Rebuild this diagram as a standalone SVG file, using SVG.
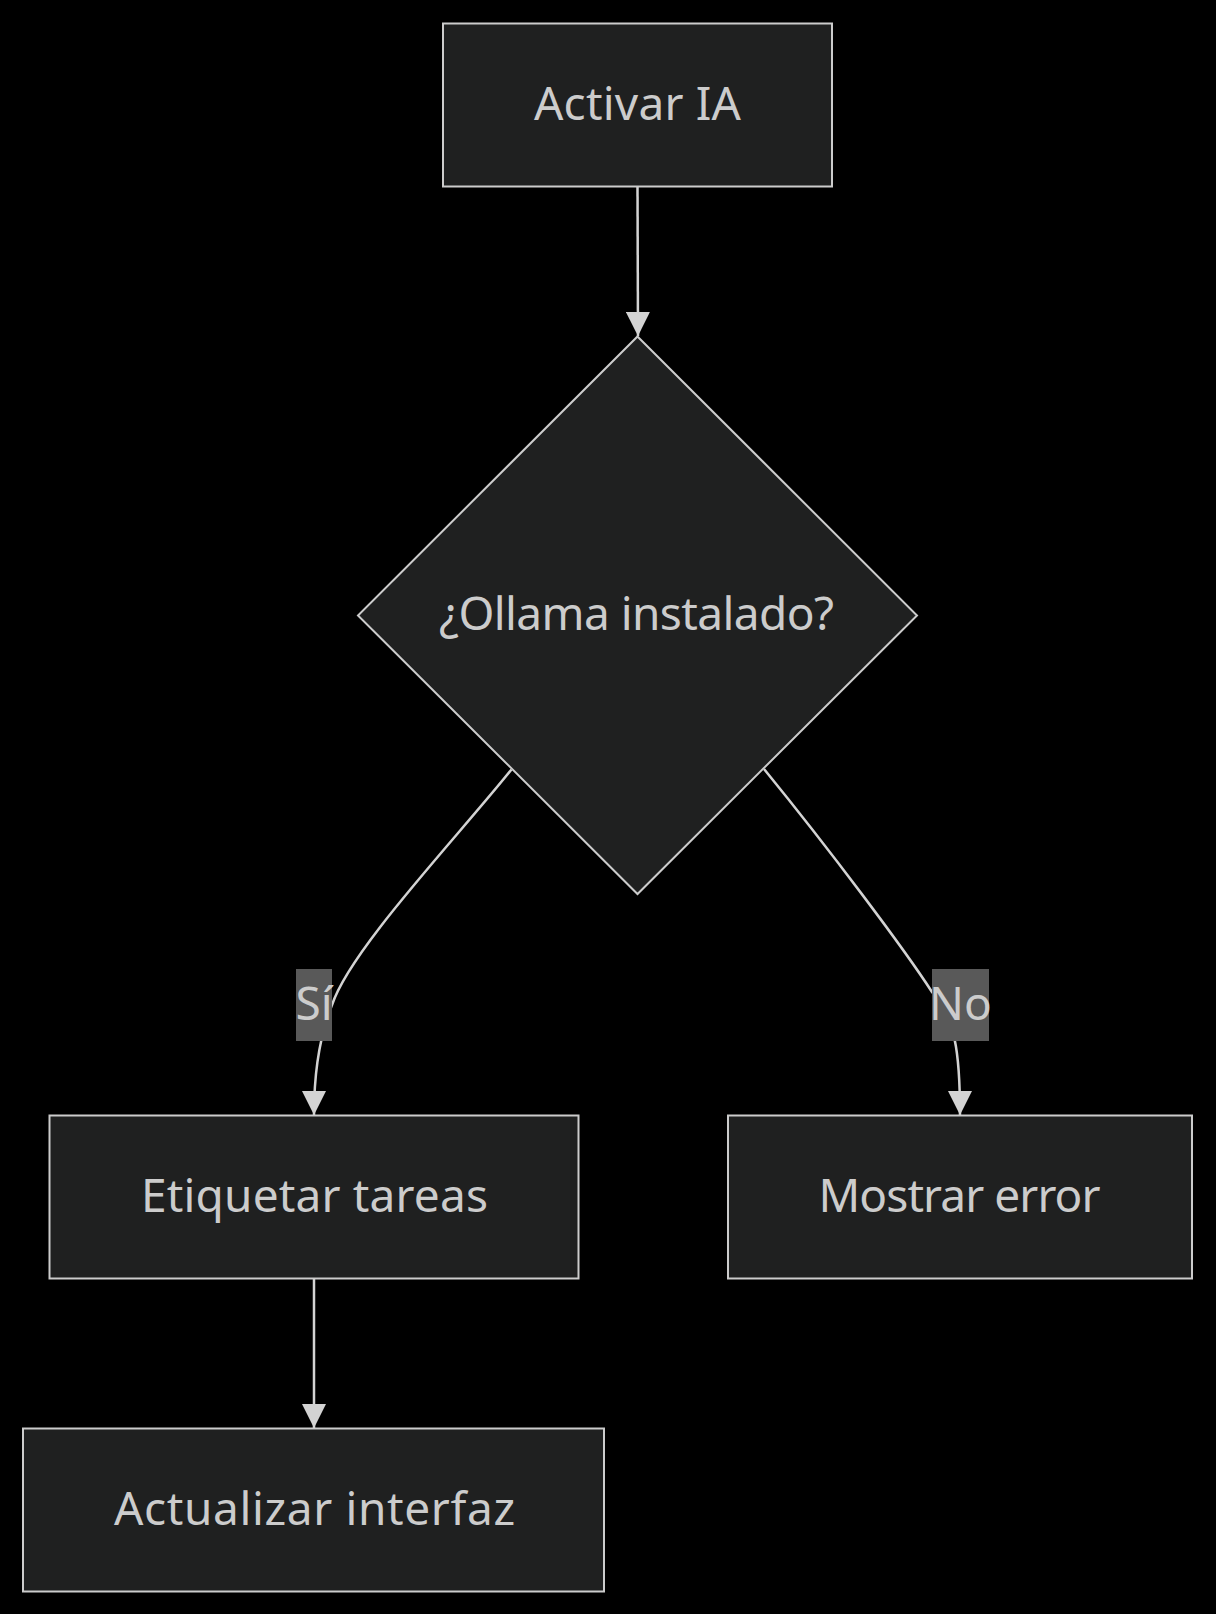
<svg xmlns="http://www.w3.org/2000/svg" width="1216" height="1614" viewBox="0 0 1216 1614">
<style>
.bg{fill:#000}
.node{fill:#1f2020;stroke:#cccccc;stroke-width:2}
.lbl{font-family:"Noto Sans","DejaVu Sans",sans-serif;font-size:46px;fill:#cccccc;text-anchor:middle}
.edge{fill:none;stroke:#d3d3d3;stroke-width:2.5}
.elbg{fill:#595959}
</style>
<defs>
<marker id="arr" markerUnits="userSpaceOnUse" markerWidth="24" markerHeight="24" viewBox="0 0 24 24" refX="24" refY="12" orient="auto">
<path d="M0,0 L24,12 L0,24 Z" fill="#d3d3d3"/>
</marker>
</defs>
<rect class="bg" x="0" y="0" width="1216" height="1614"/>
<g id="connectors">
<path class="edge" d="M637.5,187 L638,336" marker-end="url(#arr)"/>
<path class="edge" d="M511.5,769.5 C455,840 350,950 332,1005 C318,1040 314,1080 314,1115" marker-end="url(#arr)"/>
<path class="edge" d="M764,769 C830,850 905,950 932,992 C955,1020 960,1050 960,1115" marker-end="url(#arr)"/>
<path class="edge" d="M314,1279 L314,1428" marker-end="url(#arr)"/>
</g>
<g id="label-si">
<rect class="elbg" x="296" y="969" width="36" height="72"/>
<text class="lbl" x="314" y="1020">Sí</text>
</g>
<g id="label-no">
<rect class="elbg" x="932" y="969" width="57" height="72"/>
<text class="lbl" x="960.5" y="1020">No</text>
</g>
<g id="node-activar">
<rect class="node" x="443" y="23.5" width="389" height="163"/>
<text class="lbl" x="637.5" y="119.5" textLength="207">Activar IA</text>
</g>
<g id="node-ollama">
<polygon class="node" points="637.5,336.5 917,615.5 637.5,894 358,615.5"/>
<text class="lbl" x="636.5" y="629.5" textLength="395">¿Ollama instalado?</text>
</g>
<g id="node-etiquetar">
<rect class="node" x="49.5" y="1115.5" width="529" height="163"/>
<text class="lbl" x="314.5" y="1211.5" textLength="347">Etiquetar tareas</text>
</g>
<g id="node-mostrar">
<rect class="node" x="728" y="1115.5" width="464" height="163"/>
<text class="lbl" x="959.5" y="1211.5" textLength="282">Mostrar error</text>
</g>
<g id="node-actualizar">
<rect class="node" x="23" y="1428.5" width="581" height="163"/>
<text class="lbl" x="314.5" y="1524.5" textLength="401">Actualizar interfaz</text>
</g>
</svg>
